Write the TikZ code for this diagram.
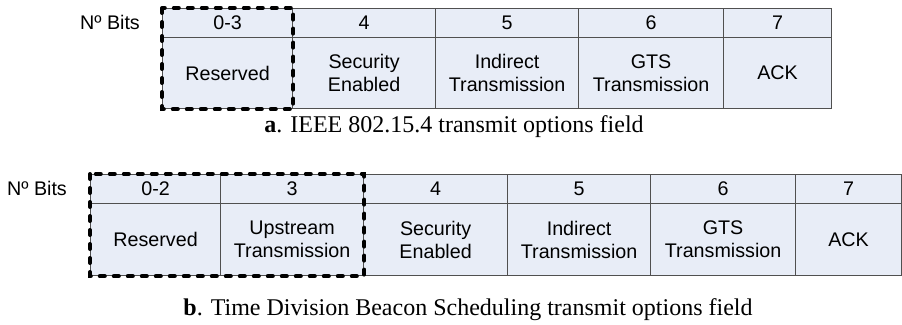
\documentclass[tikz,border=0pt]{standalone}
\usepackage{fontspec}
\setmainfont{Liberation Serif}
\newfontfamily\cellfont{Liberation Sans}
\definecolor{cellfill}{RGB}{232,237,247}
\definecolor{cellline}{RGB}{80,80,80}
\tikzset{
  cell/.style={draw=cellline, fill=cellfill, line width=1.2pt, inner sep=0pt,
    anchor=north west, align=center, font=\cellfont\fontsize{19.7}{23}\selectfont},
  hdr/.style={cell, minimum height=29pt},
  bodya/.style={cell, minimum height=71pt},
  bodyb/.style={cell, minimum height=72pt},
  lbl/.style={anchor=base, inner sep=0pt, font=\cellfont\fontsize{19.7}{23}\selectfont},
  captext/.style={anchor=base, inner sep=0pt, font=\fontsize{24}{28}\selectfont},
  dashbox/.style={draw=black, line width=4pt, dash pattern=on 5pt off 9pt, line cap=round}
}
\begin{document}
\begin{tikzpicture}[x=1pt,y=-1pt]
\useasboundingbox[fill=white] (0,0) rectangle (902,324);
% ---- table a ----
\node[lbl] (bitsa) at (110,29) {Nº Bits};
\node[hdr, minimum width=130pt] (ah0) at (162,8) {0-3};
\node[hdr, minimum width=143pt] (ah1) at (292,8) {4};
\node[hdr, minimum width=143pt] (ah2) at (435,8) {5};
\node[hdr, minimum width=145pt] (ah3) at (578,8) {6};
\node[hdr, minimum width=108pt] (ah4) at (723,8) {7};
\node[bodya, minimum width=130pt] (ab0) at (162,37) {Reserved};
\node[bodya, minimum width=143pt] (ab1) at (292,37) {Security\\Enabled};
\node[bodya, minimum width=143pt] (ab2) at (435,37) {Indirect\\Transmission};
\node[bodya, minimum width=145pt] (ab3) at (578,37) {GTS\\Transmission};
\node[bodya, minimum width=108pt] (ab4) at (723,37) {ACK};
\draw[dashbox] (ah0.north west) rectangle (ab0.south east);
\node[captext] (capa) at (454,132) {\textbf{a}. IEEE 802.15.4 transmit options field};
% ---- table b ----
\node[lbl] (bitsb) at (37,195) {Nº Bits};
\node[hdr, minimum width=130pt] (bh0) at (90,174) {0-2};
\node[hdr, minimum width=143pt] (bh1) at (220,174) {3};
\node[hdr, minimum width=144pt] (bh2) at (363,174) {4};
\node[hdr, minimum width=143pt] (bh3) at (507,174) {5};
\node[hdr, minimum width=145pt] (bh4) at (650,174) {6};
\node[hdr, minimum width=106pt] (bh5) at (795,174) {7};
\node[bodyb, minimum width=130pt] (bb0) at (90,203) {Reserved};
\node[bodyb, minimum width=143pt] (bb1) at (220,203) {Upstream\\Transmission};
\node[bodyb, minimum width=144pt] (bb2) at (363,203) {Security\\Enabled};
\node[bodyb, minimum width=143pt] (bb3) at (507,203) {Indirect\\Transmission};
\node[bodyb, minimum width=145pt] (bb4) at (650,203) {GTS\\Transmission};
\node[bodyb, minimum width=106pt] (bb5) at (795,203) {ACK};
\draw[dashbox] (bh0.north west) rectangle (bb1.south east);
\node[captext] (capb) at (468,315) {\textbf{b}. Time Division Beacon Scheduling transmit options field};
\end{tikzpicture}
\end{document}
